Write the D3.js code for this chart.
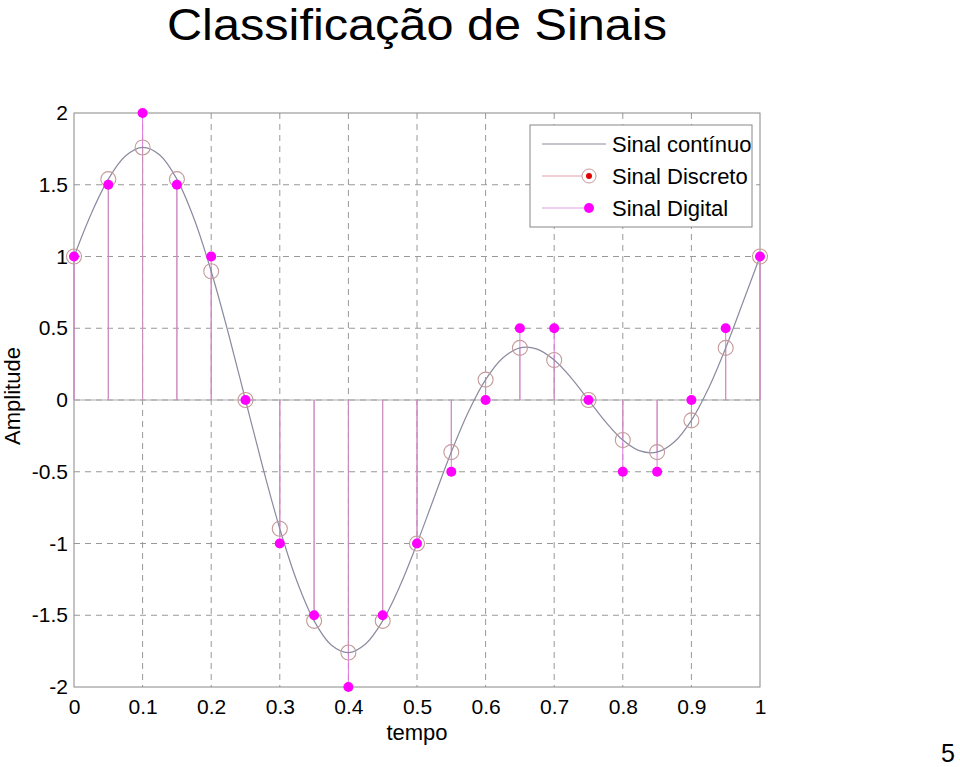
<!DOCTYPE html>
<html><head><meta charset="utf-8">
<script src="https://cdn.jsdelivr.net/npm/d3@7"></script>
<style>body{margin:0;background:#fff}svg{display:block;font-family:"Liberation Sans",Arial,sans-serif}</style>
</head><body><svg id="c" width="960" height="767"></svg>
<script>
const tCont = [0,0.025,0.05,0.075,0.1,0.125,0.15,0.175,0.2,0.225,0.25,0.275,0.3,0.325,0.35,0.375,0.4,0.425,0.45,0.475,0.5,0.525,0.55,0.575,0.6,0.625,0.65,0.675,0.7,0.725,0.75,0.775,0.8,0.825,0.85,0.875,0.9,0.925,0.95,0.975,1];
const xCont = [1,1.297,1.539,1.700,1.760,1.707,1.539,1.263,0.897,0.465,0,-0.465,-0.897,-1.263,-1.539,-1.707,-1.760,-1.700,-1.539,-1.297,-1,-0.679,-0.363,-0.082,0.142,0.293,0.363,0.355,0.279,0.153,0,-0.153,-0.279,-0.355,-0.363,-0.293,-0.142,0.082,0.363,0.679,1];
// Discrete samples
const tDisc = [0,0.05,0.1,0.15,0.2,0.25,0.3,0.35,0.4,0.45,0.5,0.55,0.6,0.65,0.7,0.75,0.8,0.85,0.9,0.95,1];
const xDisc = [1,1.539,1.760,1.539,0.897,0,-0.897,-1.539,-1.760,-1.539,-1,-0.363,0.142,0.363,0.279,0,-0.279,-0.363,-0.142,0.363,1];
// Digital (quantized) samples
const xDig = [1,1.5,2,1.5,1,0,-1,-1.5,-2,-1.5,-1,-0.5,0,0.5,0.5,0,-0.5,-0.5,0,0.5,1];
const xTicks = [0,0.1,0.2,0.3,0.4,0.5,0.6,0.7,0.8,0.9,1];
const yTicks = [-2,-1.5,-1,-0.5,0,0.5,1,1.5,2];
const legendLabels = ["Sinal contínuo","Sinal Discreto","Sinal Digital"];

const svg = d3.select("#c");
const L=74,R=760,T=113,B=687;
const x = d3.scaleLinear().domain([0,1]).range([L,R]);
const y = d3.scaleLinear().domain([-2,2]).range([B,T]);

// grid
const g = svg.append("g");
g.selectAll(".gx").data(xTicks.slice(1,-1)).join("line")
 .attr("x1",d=>x(d)).attr("x2",d=>x(d)).attr("y1",T).attr("y2",B)
 .attr("stroke","#999").attr("stroke-dasharray","6,5").attr("stroke-width",1);
g.selectAll(".gy").data(yTicks.slice(1,-1)).join("line")
 .attr("y1",d=>y(d)).attr("y2",d=>y(d)).attr("x1",L).attr("x2",R)
 .attr("stroke","#999").attr("stroke-dasharray","6,5").attr("stroke-width",1);

// axes box
svg.append("rect").attr("x",L).attr("y",T).attr("width",R-L).attr("height",B-T)
 .attr("fill","none").attr("stroke","#888").attr("stroke-width",1);

// baseline
svg.append("line").attr("x1",L).attr("x2",R).attr("y1",y(0)).attr("y2",y(0)).attr("stroke","#aaa").attr("stroke-width",1.2);

// axes ticks
const ax = svg.append("g").attr("transform",`translate(0,${B})`)
 .call(d3.axisBottom(x).tickValues(xTicks).tickFormat(d3.format("")).tickSize(0).tickPadding(12));
ax.select(".domain").remove();
ax.selectAll("text").attr("font-size",21).attr("fill","#000").attr("font-family","Liberation Sans, Arial");
const ay = svg.append("g").attr("transform",`translate(${L},0)`)
 .call(d3.axisLeft(y).tickValues(yTicks).tickFormat(d3.format("")).tickSize(0).tickPadding(6));
ay.select(".domain").remove();
ay.selectAll("text").attr("font-size",21).attr("fill","#000").attr("font-family","Liberation Sans, Arial").text(d=>String(d));

// digital stems
svg.append("g").selectAll("line").data(tDisc).join("line")
 .attr("x1",d=>x(d)).attr("x2",d=>x(d)).attr("y1",y(0)).attr("y2",(d,i)=>y(xDig[i]))
 .attr("stroke","#e07ae0").attr("stroke-width",1);
// discrete stems
svg.append("g").selectAll("line").data(tDisc).join("line")
 .attr("x1",d=>x(d)).attr("x2",d=>x(d)).attr("y1",y(0)).attr("y2",(d,i)=>y(xDisc[i]))
 .attr("stroke","#c890b8").attr("stroke-width",1);

// continuous
svg.append("path").datum(tCont.map((t,i)=>[t,xCont[i]]))
 .attr("d",d3.line().x(d=>x(d[0])).y(d=>y(d[1])).curve(d3.curveCatmullRom))
 .attr("fill","none").attr("stroke","#8a8aa0").attr("stroke-width",1.2);

// discrete circles
svg.append("g").selectAll("circle").data(tDisc).join("circle")
 .attr("cx",d=>x(d)).attr("cy",(d,i)=>y(xDisc[i])).attr("r",7.5)
 .attr("fill","none").attr("stroke","#c49a9a").attr("stroke-width",1.1);
// digital dots
svg.append("g").selectAll("circle").data(tDisc).join("circle")
 .attr("cx",d=>x(d)).attr("cy",(d,i)=>y(xDig[i])).attr("r",5)
 .attr("fill","#ff00ff");

// legend
const lg = svg.append("g");
lg.append("rect").attr("x",530).attr("y",125).attr("width",222).attr("height",102)
 .attr("fill","#fff").attr("stroke","#888").attr("stroke-width",1);
const ly = [144,176,208];
lg.append("line").attr("x1",542).attr("x2",606).attr("y1",ly[0]).attr("y2",ly[0]).attr("stroke","#8a8aa0");
lg.append("line").attr("x1",542).attr("x2",586).attr("y1",ly[1]).attr("y2",ly[1]).attr("stroke","#e0a0a8");
lg.append("circle").attr("cx",589).attr("cy",ly[1]).attr("r",7).attr("fill","#fff").attr("stroke","#c49a9a");
lg.append("circle").attr("cx",589).attr("cy",ly[1]).attr("r",3).attr("fill","#e00000");
lg.append("line").attr("x1",542).attr("x2",586).attr("y1",ly[2]).attr("y2",ly[2]).attr("stroke","#e0a0e0");
lg.append("circle").attr("cx",589).attr("cy",ly[2]).attr("r",5).attr("fill","#ff00ff");
lg.selectAll("text").data(legendLabels).join("text")
 .attr("x",612).attr("y",(d,i)=>ly[i]+8).attr("font-size",22).attr("fill","#000").text(d=>d);

// titles
svg.append("text").attr("x",417).attr("y",40).attr("text-anchor","middle").attr("font-size",44)
 .attr("textLength",500).attr("lengthAdjust","spacingAndGlyphs").text("Classificação de Sinais");
svg.append("text").attr("x",417).attr("y",740).attr("text-anchor","middle").attr("font-size",22).text("tempo");
svg.append("text").attr("transform","translate(20,396) rotate(-90)").attr("text-anchor","middle").attr("font-size",22).text("Amplitude");
svg.append("text").attr("x",948).attr("y",762).attr("text-anchor","middle").attr("font-size",25).text("5");
</script></body></html>
